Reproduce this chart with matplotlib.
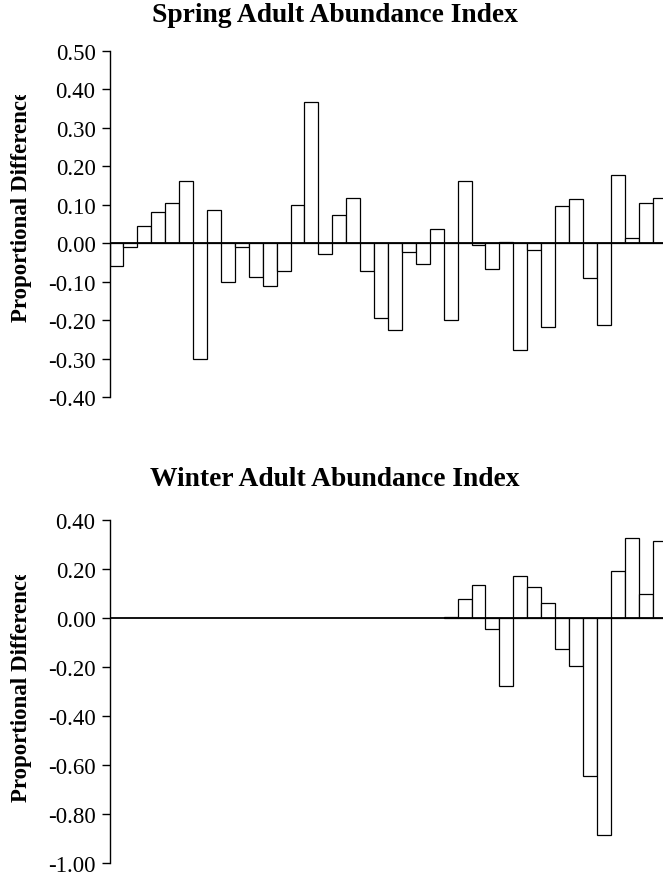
import matplotlib
matplotlib.use("Agg")
import matplotlib.pyplot as plt
import numpy as np
from matplotlib.ticker import FixedLocator, FormatStrFormatter
from matplotlib.transforms import Bbox

# proportional difference per survey year (spring runs all 40 slots,
# winter only covers the last 16)
spring_vals = [-0.059, -0.009, 0.045, 0.082, 0.104, 0.163, -0.300, 0.087,
               -0.100, -0.010, -0.087, -0.110, -0.072, 0.100, 0.368, -0.028,
               0.073, 0.118, -0.072, -0.195, -0.227, -0.023, -0.054, 0.037,
               -0.200, 0.163, -0.004, -0.068, 0.004, -0.278, -0.018, -0.219,
               0.096, 0.114, -0.091, -0.214, 0.177, 0.014, 0.105, 0.118]
winter_vals = [0.005, 0.078, 0.133, -0.044, -0.276, 0.170, 0.127, 0.062,
               -0.125, -0.195, -0.646, -0.886, 0.193, 0.327, 0.098, 0.315]
winter_first_slot = 24
n_slots = len(spring_vals)

spring_ticks = [0.50, 0.40, 0.30, 0.20, 0.10, 0.00, -0.10, -0.20, -0.30, -0.40]
winter_ticks = [0.40, 0.20, 0.00, -0.20, -0.40, -0.60, -0.80, -1.00]

W, H = 663, 879
plt.rcParams['font.family'] = ['Liberation Serif', 'DejaVu Serif']

fig = plt.figure(figsize=(W / 100, H / 100), dpi=100)


def px_axes(left, top, right, bottom):
    return fig.add_axes([left / W, 1 - bottom / H, (right - left) / W, (bottom - top) / H])


def style_axes(ax, ticks):
    ax.set_xlim(0, n_slots)
    ax.set_ylim(min(ticks), max(ticks))
    for s in ['top', 'right', 'bottom']:
        ax.spines[s].set_visible(False)
    ax.spines['left'].set_linewidth(1.0)
    ax.yaxis.set_major_locator(FixedLocator(ticks))
    ax.yaxis.set_major_formatter(FormatStrFormatter('%.2f'))
    ax.tick_params(axis='y', direction='out', length=6, width=1.0, pad=4, labelsize=16.5)
    ax.set_xticks([])
    ax.axhline(0, color='black', linewidth=1.3, zorder=3)


labels = []


def ylabel(x_px, start_px):
    # label is too long for its box, so the last letter gets cut off
    t = fig.text(x_px / W, 1 - start_px / H, 'Proportional Difference',
                 rotation=90, rotation_mode='anchor', ha='left', va='center',
                 fontsize=16.5, fontweight='bold')
    labels.append(t)


bar_kw = dict(width=1.0, align='edge', color='white', edgecolor='black', linewidth=0.9, zorder=2)

# spring panel
ax1 = px_axes(109.5, 52, 666.5, 398)
ax1.bar(np.arange(n_slots), spring_vals, **bar_kw)
style_axes(ax1, spring_ticks)
fig.text(335 / W, 1 - 22 / H, 'Spring Adult Abundance Index', ha='center', va='baseline',
         fontsize=19.8, fontweight='bold')
ylabel(22, 322)

# winter panel
ax2 = px_axes(109.5, 521, 666.5, 864)
ax2.bar(np.arange(len(winter_vals)) + winter_first_slot, winter_vals, **bar_kw)
style_axes(ax2, winter_ticks)
fig.text(335 / W, 1 - 486 / H, 'Winter Adult Abundance Index', ha='center', va='baseline',
         fontsize=19.8, fontweight='bold')
ylabel(22, 802)

fig.canvas.draw()
renderer = fig.canvas.get_renderer()
for t in labels:
    ext = t.get_window_extent(renderer)
    clip_top = ext.y1 - 6
    t.set_clip_box(Bbox([[ext.x0 - 5, ext.y0 - 5], [ext.x1 + 5, clip_top]]))
    t.set_clip_on(True)

fig.savefig('out.png', dpi=100)
